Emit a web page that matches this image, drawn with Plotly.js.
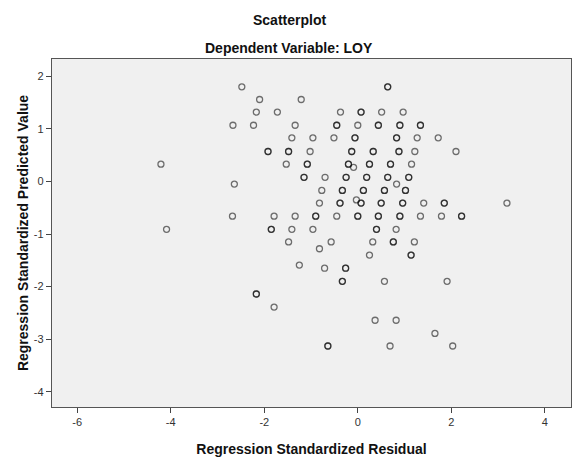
<!DOCTYPE html>
<html>
<head>
<meta charset="utf-8">
<script src="https://cdn.plot.ly/plotly-3.0.1.min.js"></script>
<style>
  html, body { margin: 0; padding: 0; background: #ffffff; }
  #chart { width: 578px; height: 462px; }
</style>
</head>
<body>
<div id="chart"></div>
<script>
// Regression standardized residual (x) and predicted value (y) for each plotted circle.
// overlap = how many cases share that spot (darker circles in the reference).
const residual = [
  -2.48, 0.64,
  -2.10, -1.21,
  -2.17, -1.72, -0.37, 0.07, 0.51, 0.97,
  -2.67, -2.23, -1.34, -0.45, 0.00, 0.44, 0.90, 1.34,
  -1.41, -0.96, -0.51, -0.06, 0.83, 1.27, 1.72,
  -1.92, -1.48, -1.02, -0.13, 0.33, 0.88, 1.22, 2.10,
  -4.21, -1.53, -1.08, -0.20, 0.25, 0.70, 1.15,
  -0.09,
  -1.15, -0.70, -0.25, 0.19, 0.64, 1.09,
  -2.64, 0.83,
  -0.77, -0.33, 0.12, 0.57, 1.02,
  -0.03,
  -0.82, -0.38, 0.07, 0.50, 0.96, 1.41, 1.85, 3.19,
  -2.68, -1.79, -1.34, -0.90, -0.45, 0.00, 0.44, 0.90, 1.34, 1.79, 2.22,
  -4.09, -1.85, -1.41, -0.96, 0.40, 0.82,
  -1.48, -0.57, 0.32, 0.76, 1.21,
  -0.82,
  0.25, 1.14,
  -1.25,
  -0.71, -0.26,
  -0.33, 0.57, 1.91,
  -2.17,
  -1.79,
  0.37, 0.82,
  1.65,
  -0.64, 0.69, 2.03
];
const predicted = [
  1.80, 1.80,
  1.56, 1.56,
  1.32, 1.32, 1.32, 1.32, 1.32, 1.32,
  1.07, 1.07, 1.07, 1.07, 1.07, 1.07, 1.07, 1.07,
  0.83, 0.83, 0.83, 0.83, 0.83, 0.83, 0.83,
  0.57, 0.57, 0.57, 0.57, 0.57, 0.57, 0.57, 0.57,
  0.33, 0.33, 0.33, 0.33, 0.33, 0.33, 0.33,
  0.27,
  0.08, 0.08, 0.08, 0.08, 0.08, 0.08,
  -0.05, -0.05,
  -0.17, -0.17, -0.17, -0.17, -0.17,
  -0.35,
  -0.41, -0.41, -0.41, -0.41, -0.41, -0.41, -0.41, -0.41,
  -0.66, -0.66, -0.66, -0.66, -0.66, -0.66, -0.66, -0.66, -0.66, -0.66, -0.66,
  -0.91, -0.91, -0.91, -0.91, -0.91, -0.91,
  -1.15, -1.15, -1.15, -1.15, -1.15,
  -1.28,
  -1.40, -1.40,
  -1.59,
  -1.65, -1.65,
  -1.90, -1.90, -1.90,
  -2.14,
  -2.39,
  -2.64, -2.64,
  -2.89,
  -3.13, -3.13, -3.13
];
const overlap = [
  1, 2,
  1, 1,
  1, 1, 1, 2, 1, 1,
  1, 1, 1, 2, 1, 2, 2, 2,
  1, 1, 1, 2, 2, 1, 1,
  2, 2, 1, 2, 2, 2, 1, 1,
  1, 1, 2, 2, 2, 2, 1,
  1,
  2, 1, 2, 2, 2, 2,
  1, 1,
  1, 2, 2, 2, 2,
  1,
  1, 2, 2, 2, 2, 1, 2, 1,
  1, 1, 1, 2, 1, 2, 2, 2, 1, 1, 2,
  1, 2, 1, 1, 2, 1,
  1, 1, 1, 2, 1,
  1,
  1, 2,
  1,
  1, 2,
  2, 1, 1,
  2,
  1,
  1, 1,
  1,
  2, 1, 1
];
const xTicks = [-6, -4, -2, 0, 2, 4];
const yTicks = [-4, -3, -2, -1, 0, 1, 2];
const chartTitle = 'Scatterplot';
const chartSubtitle = 'Dependent Variable: LOY';
const xTitle = 'Regression Standardized Residual';
const yTitle = 'Regression Standardized Predicted Value';

// Expand overlapping cases so coincident circles draw darker.
const xs = [], ys = [];
residual.forEach((r, i) => {
  for (let k = 0; k < overlap[i]; k++) { xs.push(r); ys.push(predicted[i]); }
});

const FONT = 'Liberation Sans, Arial, sans-serif';

const trace = {
  type: 'scatter',
  mode: 'markers',
  x: xs,
  y: ys,
  marker: {
    symbol: 'circle-open',
    size: 6,
    color: 'rgba(0,0,0,0.55)',
    line: { width: 1.3, color: 'rgba(0,0,0,0.55)' }
  },
  hoverinfo: 'x+y',
  showlegend: false
};

const axisCommon = {
  showgrid: false,
  zeroline: false,
  showline: true,
  mirror: true,
  linecolor: '#555555',
  linewidth: 1.2,
  ticks: 'outside',
  ticklen: 5,
  tickwidth: 1,
  tickcolor: '#444444',
  tickfont: { family: FONT, size: 11, color: '#333333' }
};

const layout = {
  width: 578,
  height: 462,
  paper_bgcolor: '#ffffff',
  plot_bgcolor: '#f0f0f0',
  margin: { l: 52, r: 7, t: 59, b: 55, pad: 0 },
  xaxis: Object.assign({}, axisCommon, {
    range: [-6.54, 4.56],
    tickvals: xTicks,
    ticktext: xTicks.map(String),
    title: { text: xTitle, font: { family: FONT, size: 14, color: '#111111', weight: 'bold' }, standoff: 16 }
  }),
  yaxis: Object.assign({}, axisCommon, {
    range: [-4.29, 2.33],
    tickvals: yTicks,
    ticktext: yTicks.map(String),
    title: { text: yTitle, font: { family: FONT, size: 14, color: '#111111', weight: 'bold' }, standoff: 2 }
  }),
  annotations: [
    { text: '<b>' + chartTitle + '</b>', xref: 'paper', yref: 'paper', x: 0.457, y: 1.111,
      xanchor: 'center', yanchor: 'middle', showarrow: false,
      font: { family: FONT, size: 14, color: '#111111' } },
    { text: '<b>' + chartSubtitle + '</b>', xref: 'paper', yref: 'paper', x: 0.457, y: 1.032,
      xanchor: 'center', yanchor: 'middle', showarrow: false,
      font: { family: FONT, size: 14, color: '#111111' } }
  ]
};

Plotly.newPlot('chart', [trace], layout, { displayModeBar: false, staticPlot: true });
</script>
</body>
</html>
